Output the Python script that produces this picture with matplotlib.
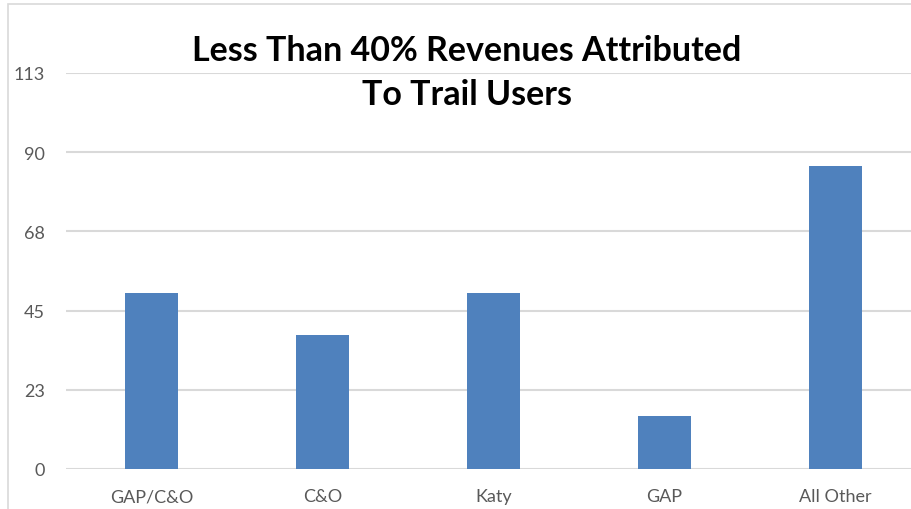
import matplotlib
matplotlib.use("Agg")
from matplotlib import pyplot as plt
from matplotlib.patches import Rectangle

# Chart data
categories = ["GAP/C&O", "C&O", "Katy", "GAP", "All Other"]
values = [50, 38, 50, 15, 86]
yTicks = [0, 22.5, 45, 67.5, 90, 112.5]
yTickLabels = ["0", "23", "45", "68", "90", "113"]
titleText = "Less Than 40% Revenues Attributed\nTo Trail Users"

W, H = 911, 510
fig = plt.figure(figsize=(W/100, H/100), dpi=100)
# Axes spans past the right edge, like the cropped original
ax = fig.add_axes([66/W, 40/H, 855/W, 396/H])
ax.bar(range(len(categories)), values, width=0.31, color="#4f81bd", zorder=3)
ax.set_xlim(-0.5, len(categories) - 0.5)
ax.set_ylim(0, yTicks[-1])
ax.set_yticks(yTicks)
ax.set_yticklabels(yTickLabels)
ax.set_xticks(range(len(categories)))
ax.set_xticklabels(categories)
ax.yaxis.grid(True, color="#d9d9d9", linewidth=1.5, zorder=0)
ax.set_axisbelow(True)
for s in ax.spines.values():
    s.set_visible(False)
ax.tick_params(axis="both", length=0, colors="#595959", labelsize=13)
ax.tick_params(axis="y", pad=15)
ax.tick_params(axis="x", pad=14)
for lbl in ax.get_xticklabels() + ax.get_yticklabels():
    lbl.set_family("Lato")
ax.patch.set_visible(False)

# Title sits over the plot area
fig.text(467/W, 1 - 73/H, titleText, ha="center", va="center", fontsize=24.5,
         fontweight="bold", family="Lato", linespacing=1.45)

# Light frame of the chart area (left and top edges visible)
fig.patches.append(Rectangle((8/W, -0.1), 1.2, (505/H) + 0.1, transform=fig.transFigure,
                             fill=False, edgecolor="#d9d9d9", linewidth=1.2))

fig.savefig("out.png", dpi=100)
